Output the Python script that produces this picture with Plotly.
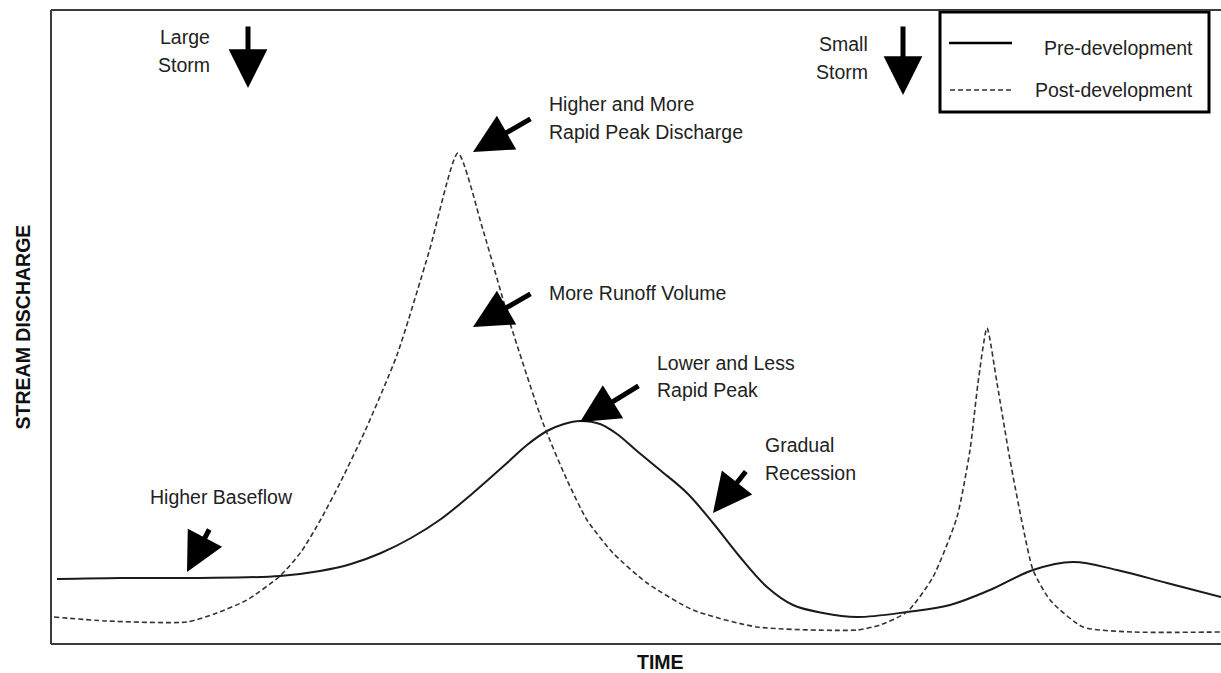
import plotly.graph_objects as go

# ---- data (time, discharge) ----
pre_time = [0.6, 6.9, 14.9, 22.9, 26.9, 30.0, 33.0, 36.0, 39.0, 42.2, 45.6, 47.6, 49.6,
            51.3, 52.9, 54.9, 56.6, 58.6, 60.9, 63.6, 66.2, 68.9, 71.6, 74.2, 77.2,
            80.6, 85.6, 89.9, 93.9, 98.2, 102.2, 106.6, 111.6, 117.0]
pre_q = [6.5, 6.6, 6.6, 6.8, 7.3, 8.0, 9.1, 10.6, 12.5, 15.1, 18.1, 19.9, 21.3,
         22.0, 22.3, 22.0, 21.0, 19.3, 17.4, 15.1, 12.1, 8.7, 5.7, 3.9, 3.1,
         2.7, 3.2, 3.9, 5.4, 7.4, 8.2, 7.4, 6.1, 4.7]

post_time = [0.3, 5.6, 13.6, 16.6, 19.6, 22.9, 25.0, 27.0, 29.0, 31.4, 34.6, 37.8, 40.7,
             43.2, 45.9, 49.2, 51.6, 53.6, 56.2, 59.6, 64.2, 70.6, 80.6, 82.9, 85.6,
             88.2, 90.6, 91.9, 92.7, 93.6, 94.6, 95.9, 97.2, 98.2, 99.9, 103.2, 108.2, 117.0]
post_q = [2.7, 2.3, 2.2, 3.1, 4.4, 6.8, 9.2, 12.5, 16.3, 21.3, 28.9, 39.2, 49.1,
          41.4, 32.1, 22.1, 16.4, 12.4, 9.1, 6.1, 3.4, 1.7, 1.4, 1.9, 3.2,
          6.7, 12.7, 19.4, 26.1, 31.6, 26.1, 18.4, 11.7, 7.4, 4.4, 1.7, 1.2, 1.2]

series_names = ["Pre-development", "Post-development"]
x_title = "TIME"
y_title = "STREAM DISCHARGE"

FONT = "Liberation Sans, Arial, sans-serif"
FS = 19.5
TXT = "#222222"

fig = go.Figure()
fig.add_trace(go.Scatter(x=pre_time, y=pre_q, mode="lines", name=series_names[0],
                         line=dict(color="#1a1a1a", width=2, shape="spline", smoothing=1.0)))
fig.add_trace(go.Scatter(x=post_time, y=post_q, mode="lines", name=series_names[1],
                         line=dict(color="#333333", width=1.6, dash="5px,3px",
                                   shape="spline", smoothing=0.6)))

ann = []
def text(t, q, s, anchor="left"):
    ann.append(dict(x=t, y=q, xref="x", yref="y", text=s, showarrow=False,
                    xanchor=anchor, yanchor="middle",
                    font=dict(family=FONT, size=FS, color=TXT)))

def arrow(t, q, ax, ay):
    ann.append(dict(x=t, y=q, xref="x", yref="y", text="", showarrow=True,
                    ax=ax, ay=ay, arrowhead=2, arrowsize=1.55, arrowwidth=5,
                    arrowcolor="#000000", standoff=0, startstandoff=0))

text(16.1, 60.7, "Large", "right")
text(16.1, 57.9, "Storm", "right")
text(81.9, 60.0, "Small", "right")
text(81.9, 57.2, "Storm", "right")
text(49.6, 54.0, "Higher and More")
text(49.6, 51.2, "Rapid Peak Discharge")
text(49.6, 35.1, "More Runoff Volume")
text(60.4, 28.1, "Lower and Less")
text(60.4, 25.4, "Rapid Peak")
text(71.2, 19.9, "Gradual")
text(71.2, 17.1, "Recession")
text(9.7, 14.7, "Higher Baseflow")

arrow(19.7, 55.6, 0, -63)
arrow(85.2, 54.9, 0, -70)
arrow(42.2, 49.2, 59, -34)
arrow(42.2, 31.7, 59, -34)
arrow(52.9, 22.2, 60, -37)
arrow(66.2, 13.1, 34, -43)
arrow(13.6, 7.2, 23, -44)

# legend (manual box)
text(114.4, 59.6, series_names[0], "right")
text(114.4, 55.4, series_names[1], "right")

shapes = [
    dict(type="rect", xref="x", yref="y", x0=88.9, x1=115.8, y0=53.2, y1=63.2,
         line=dict(color="#000000", width=3), fillcolor="rgba(0,0,0,0)"),
    dict(type="line", xref="x", yref="y", x0=89.8, x1=96.1, y0=60.1, y1=60.1,
         line=dict(color="#000000", width=2.5)),
    dict(type="line", xref="x", yref="y", x0=89.9, x1=96.1, y0=55.4, y1=55.4,
         line=dict(color="#333333", width=1.5, dash="5px,3px")),
    # frame: left, top, bottom
    dict(type="line", xref="paper", yref="paper", x0=0, x1=0, y0=0, y1=1,
         line=dict(color="#3a3a3a", width=2)),
    dict(type="line", xref="paper", yref="paper", x0=0, x1=1, y0=1, y1=1,
         line=dict(color="#3a3a3a", width=2)),
    dict(type="line", xref="paper", yref="paper", x0=0, x1=1, y0=0, y1=0,
         line=dict(color="#3a3a3a", width=2)),
]

ann.append(dict(x=0.521, y=-0.0284, xref="paper", yref="paper", text="<b>" + x_title + "</b>",
                showarrow=False, xanchor="center", yanchor="middle",
                font=dict(family=FONT, size=FS, color="#111111")))
ann.append(dict(x=-0.0236, y=0.5, xref="paper", yref="paper", text="<b>" + y_title + "</b>",
                showarrow=False, xanchor="center", yanchor="middle", textangle=-90,
                font=dict(family=FONT, size=FS, color="#111111")))

fig.update_layout(
    width=1221, height=673,
    margin=dict(l=51, r=0, t=10, b=29),
    paper_bgcolor="white", plot_bgcolor="white",
    showlegend=False,
    xaxis=dict(range=[0, 117], showgrid=False, zeroline=False, showticklabels=False,
               ticks="", showline=False, fixedrange=True),
    yaxis=dict(range=[0, 63.4], showgrid=False, zeroline=False, showticklabels=False,
               ticks="", showline=False, fixedrange=True),
    annotations=ann,
    shapes=shapes,
)

fig.write_html("out.html", config={"displayModeBar": False},
               post_script="document.body.style.margin='0';document.body.style.overflow='hidden';")
